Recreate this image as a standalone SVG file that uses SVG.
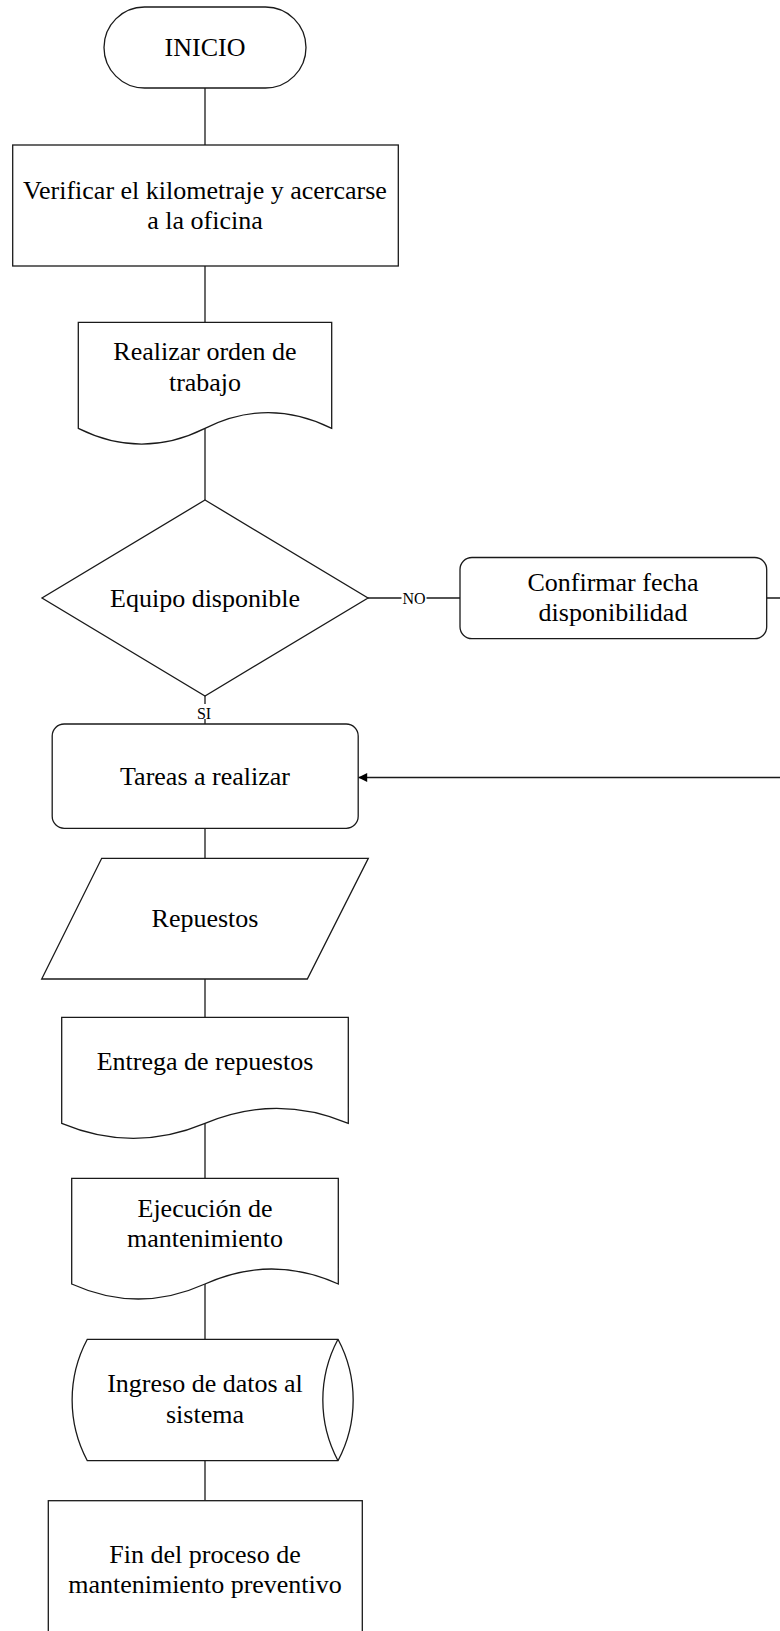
<svg xmlns="http://www.w3.org/2000/svg" width="780" height="1631" viewBox="0 0 780 1631">
<defs>
<marker id="arrow" viewBox="0 0 10 10" refX="10" refY="5" markerWidth="10" markerHeight="9" markerUnits="userSpaceOnUse" orient="auto">
<path d="M0,0 L10,5 L0,10 Z" fill="#000"/>
</marker>
<style>
.shape{fill:#fff;stroke:#1a1a1a;stroke-width:1.3}
.line{fill:none;stroke:#1a1a1a;stroke-width:1.3}
.t{font-size:26px;fill:#000;text-anchor:middle}
.lbl{font-size:16px;fill:#000;text-anchor:middle}
.bg{fill:#fff;stroke:none}
</style>
</defs>
<rect width="780" height="1631" fill="#fff"/>
<g id="connectors" font-family="Liberation Serif, Times New Roman, DejaVu Serif, serif">
<line class="line" x1="205" y1="88" x2="205" y2="145"/>
<line class="line" x1="205" y1="266" x2="205" y2="322.3"/>
<line class="line" x1="205" y1="428.3" x2="205" y2="500"/>
<line class="line" x1="368" y1="598" x2="460" y2="598"/>
<rect class="bg" x="401.5" y="590" width="25" height="16"/>
<text class="lbl" x="414" y="603.5">NO</text>
<path class="line" d="M766.7,598 H800 V777.5 H358.2" marker-end="url(#arrow)"/>
<line class="line" x1="205" y1="696" x2="205" y2="724"/>
<rect class="bg" x="197" y="704" width="15" height="15"/>
<text class="lbl" x="204" y="718.5">SI</text>
<line class="line" x1="205" y1="828.3" x2="205" y2="858.3"/>
<line class="line" x1="205" y1="979" x2="205" y2="1017.3"/>
<line class="line" x1="205" y1="1123.3" x2="205" y2="1178.3"/>
<line class="line" x1="205" y1="1284" x2="205" y2="1339.3"/>
<line class="line" x1="205" y1="1460.7" x2="205" y2="1500.7"/>
</g>
<g font-family="Liberation Serif, Times New Roman, DejaVu Serif, serif">
<g id="inicio">
<rect class="shape" x="104" y="7" width="202" height="81" rx="40.5" ry="40.5"/>
<text class="t" x="205" y="56">INICIO</text>
</g>
<g id="verificar">
<rect class="shape" x="12.7" y="145" width="385.6" height="121"/>
<text class="t" x="205" y="199.3">Verificar el kilometraje y acercarse</text>
<text class="t" x="205" y="229.3">a la oficina</text>
</g>
<g id="orden">
<path class="shape" d="M78.3,322.3 H331.7 V428.3 C289.5,407.3 247.2,407.3 205,428.3 C162.8,449.3 120.5,449.3 78.3,428.3 Z"/>
<text class="t" x="205" y="360">Realizar orden de</text>
<text class="t" x="205" y="390.5">trabajo</text>
</g>
<g id="equipo">
<path class="shape" d="M205,500 L368,598 L205,696 L42,598 Z"/>
<text class="t" x="205" y="606.5">Equipo disponible</text>
</g>
<g id="confirmar">
<rect class="shape" x="460" y="557.5" width="306.7" height="81.2" rx="12" ry="12"/>
<text class="t" x="613" y="591">Confirmar fecha</text>
<text class="t" x="613" y="620.5">disponibilidad</text>
</g>
<g id="tareas">
<rect class="shape" x="52.2" y="724" width="306" height="104.3" rx="12" ry="12"/>
<text class="t" x="205" y="785">Tareas a realizar</text>
</g>
<g id="repuestos">
<path class="shape" d="M101.7,858.3 H368.3 L307.3,979 H41.7 Z"/>
<text class="t" x="205" y="927.3">Repuestos</text>
</g>
<g id="entrega">
<path class="shape" d="M61.7,1017.3 H348.3 V1123.3 C300.5,1103.3 252.8,1103.3 205,1123.3 C157.2,1143.3 109.5,1143.3 61.7,1123.3 Z"/>
<text class="t" x="205" y="1070">Entrega de repuestos</text>
</g>
<g id="ejecucion">
<path class="shape" d="M71.7,1178.3 H338.3 V1284 C293.9,1264 249.4,1264 205,1284 C160.6,1304 116.1,1304 71.7,1284 Z"/>
<text class="t" x="205" y="1216.7">Ejecución de</text>
<text class="t" x="205" y="1247.3">mantenimiento</text>
</g>
<g id="ingreso">
<path class="shape" d="M87.3,1339.3 H338 A129,129 0 0 1 338,1460.7 H87.3 A129,129 0 0 1 87.3,1339.3 Z"/>
<path class="line" d="M338,1339.3 A129,129 0 0 0 338,1460.7"/>
<text class="t" x="205" y="1392">Ingreso de datos al</text>
<text class="t" x="205" y="1423">sistema</text>
</g>
<g id="fin">
<rect class="shape" x="48.3" y="1500.7" width="314" height="145"/>
<text class="t" x="205" y="1562.7">Fin del proceso de</text>
<text class="t" x="205" y="1592.7">mantenimiento preventivo</text>
</g>
</g>
</svg>
